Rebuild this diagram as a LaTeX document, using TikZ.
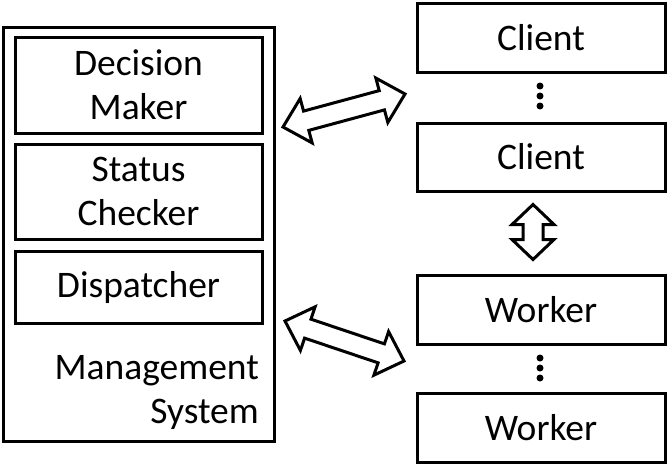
\documentclass[tikz,border=0pt]{standalone}
\usepackage{fontspec}
\setmainfont{Carlito}
\usetikzlibrary{calc}
\newcommand\outlinearrow[5]{%
  \coordinate (HA) at ($(#1)!#3!(#2)$);
  \coordinate (HB) at ($(#2)!#3!(#1)$);
  \draw[outarrow] (#1) -- ($(HA)!#4!90:(#2)$) -- ($(HA)!#5!90:(#2)$)
    -- ($(HB)!#5!-90:(#1)$) -- ($(HB)!#4!-90:(#1)$) -- (#2)
    -- ($(HB)!#4!90:(#1)$) -- ($(HB)!#5!90:(#1)$)
    -- ($(HA)!#5!-90:(#2)$) -- ($(HA)!#4!-90:(#2)$) -- cycle;
}
\begin{document}
\begin{tikzpicture}[x=1pt,y=-1pt,
  txt/.style={font=\fontsize{37.5}{44}\selectfont},
  box/.style={draw, line width=3pt, rectangle, inner sep=0pt, align=center, txt},
  outarrow/.style={draw, line width=3pt, fill=white, line join=miter},
  dot/.style={circle, fill=black, inner sep=0pt, minimum size=7pt}]
\useasboundingbox (0,0) rectangle (668,466);
% management system
\node[box, minimum width=271pt, minimum height=414pt] (ms) at (138.5,234) {};
\node[box, minimum width=247pt, minimum height=96pt] (dm) at (138.5,85) {Decision\\Maker};
\node[box, minimum width=247pt, minimum height=95pt] (sc) at (138.5,191.5) {Status\\Checker};
\node[box, minimum width=247pt, minimum height=72pt] (dp) at (138.5,287) {Dispatcher};
\node[anchor=east, align=right, inner sep=0pt, txt] (mst) at (259,392) {Management\\System};
% right column
\node[box, minimum width=248pt, minimum height=69pt] (c1) at (541,37.5) {Client};
\node[box, minimum width=248pt, minimum height=68pt] (c2) at (541,157) {Client};
\node[box, minimum width=248pt, minimum height=69pt] (w1) at (541,309.5) {Worker};
\node[box, minimum width=248pt, minimum height=69pt] (w2) at (541,427.5) {Worker};
\node[dot] (d1) at (540,86) {};
\node[dot] (d2) at (540,96) {};
\node[dot] (d3) at (540,106) {};
\node[dot] (d4) at (540,358) {};
\node[dot] (d5) at (540,368) {};
\node[dot] (d6) at (540,378) {};
% arrows
\coordinate (a1) at (283,127);
\coordinate (b1) at (405,94);
\coordinate (a2) at (285,321);
\coordinate (b2) at (404,361);
\coordinate (a3) at ($(c2.south)+(-8,12)$);
\coordinate (b3) at ($(w1.north)+(-8,-14)$);
\outlinearrow{a1}{b1}{24pt}{23pt}{10pt}
\outlinearrow{a2}{b2}{24pt}{23pt}{10pt}
\outlinearrow{a3}{b3}{20pt}{21pt}{10pt}
\end{tikzpicture}
\end{document}
